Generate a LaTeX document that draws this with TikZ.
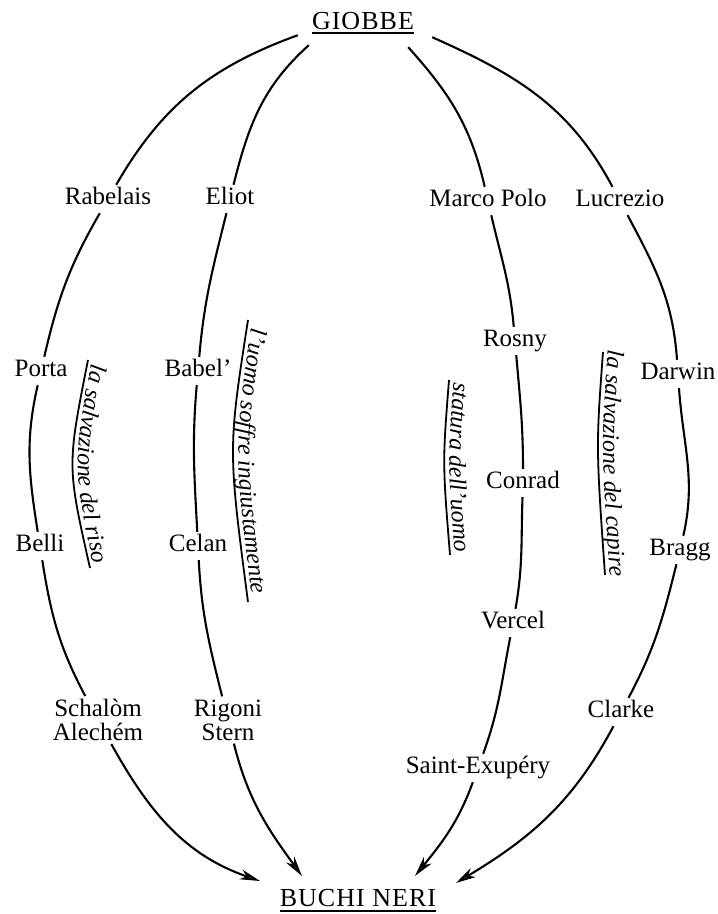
\documentclass[tikz,border=0pt]{standalone}
\usepackage{fontspec}
\setmainfont{Liberation Serif}
\usetikzlibrary{arrows.meta,decorations.text}
\begin{document}
\begin{tikzpicture}[x=1pt,y=1pt,
  person/.style={font=\fontsize{25}{24}\selectfont, inner sep=3pt, text height=17pt, text depth=5pt, anchor=base},
  pole/.style={person, font=\fontsize{26}{24}\selectfont\addfontfeature{LetterSpace=4}},
  twoline/.style={font=\fontsize{25}{24}\selectfont, inner sep=3pt, align=center},
  link/.style={line width=2.1pt},
  arr/.style={link, -{Stealth[length=20pt,width=10pt,inset=6pt,fill=black!60]}},
  bar/.style={line width=1.8pt},
  lbl/.style={decorate, decoration={text along path, text align=center, raise=5pt}}
]
\useasboundingbox[fill=white] (0,0) rectangle (718,914);

% poles
\node[pole] (giobbe) at (363,884) {GIOBBE};
\node[pole] (buchi) at (358,7) {BUCHI NERI};
\draw[bar] ([xshift=3pt,yshift=-3pt]giobbe.base west) -- ([xshift=-3pt,yshift=-3pt]giobbe.base east);
\draw[bar] ([xshift=3pt,yshift=-4pt]buchi.base west) -- ([xshift=-3pt,yshift=-4pt]buchi.base east);

% names
\node[person] (rabelais) at (108,709) {Rabelais};
\node[person] (eliot) at (230,709) {Eliot};
\node[person] (marcopolo) at (488,707) {Marco Polo};
\node[person] (lucrezio) at (620,707) {Lucrezio};
\node[person] (porta) at (41,537) {Porta};
\node[person] (babel) at (198,537) {Babel'};
\node[person] (rosny) at (515,567) {Rosny};
\node[person] (darwin) at (678,534) {Darwin};
\node[person] (conrad) at (523,425) {Conrad};
\node[person] (belli) at (40,362) {Belli};
\node[person] (celan) at (198,362) {Celan};
\node[person] (bragg) at (680,358) {Bragg};
\node[person] (vercel) at (513,285) {Vercel};
\node[twoline] (schalom) at (98,194) {Schalòm\\Alechém};
\node[twoline] (rigoni) at (228,194) {Rigoni\\Stern};
\node[person] (clarke) at (621,196) {Clarke};
\node[person] (saintex) at (478,140) {Saint-Exupéry};

% arrow ends
\coordinate (tipA) at (260,33);
\coordinate (tipB) at (302,38);
\coordinate (tipC) at (415,38);
\coordinate (tipD) at (456,31);

% meridians
\draw[arr] ([shift={(-11,3)}]giobbe.south west) to[out=200,in=60] (rabelais)
  to[out=240,in=77] (porta) to[out=257,in=99] (belli)
  to[out=279,in=118] (schalom) to[out=299,in=161] (tipA);
\draw[arr] ([shift={(0,-7)}]giobbe.south west) to[out=222,in=76] (eliot)
  to[out=256,in=85] (babel) to[out=265,in=93] (celan)
  to[out=273,in=104] (rigoni) to[out=284,in=126] (tipB);
\draw[arr] ([shift={(-9,-9)}]giobbe.south east) to[out=312,in=103] (marcopolo)
  to[out=283,in=95] (rosny) to[out=275,in=90] (conrad)
  to[out=268,in=80] (vercel) to[out=259,in=70] (saintex)
  to[out=250,in=51] (tipC);
\draw[arr] ([shift={(15,1)}]giobbe.south east) to[out=336,in=118] (lucrezio)
  to[out=298,in=94] (darwin) to[out=274,in=77] (bragg)
  to[out=256,in=62] (clarke) to[out=242,in=31] (tipD);

% curved labels
\draw[bar] (88,554) .. controls (67,448) .. (90,346);
\path[lbl, decoration={text={|\fontsize{24}{24}\selectfont\itshape|la salvazione del riso}}]
  (88.5,562) .. controls (67,448) .. (91,338);

\draw[bar] (248,594) .. controls (228,465) .. (248,312);
\path[lbl, decoration={text={|\fontsize{24}{24}\selectfont\itshape|l'uomo soffre ingiustamente}}]
  (249,606) .. controls (228,465) .. (249,300);

\draw[bar] (449,534) .. controls (442.5,451.5) .. (450,359);
\path[lbl, decoration={text={|\fontsize{24}{24}\selectfont\itshape|statura dell'uomo}}]
  (449.5,544) .. controls (442.5,451.5) .. (450.5,349);

\draw[bar] (603,562) .. controls (596,467.5) .. (605,339);
\path[lbl, decoration={text={|\fontsize{24}{24}\selectfont\itshape|la salvazione del capire}}]
  (603.5,574) .. controls (596,467.5) .. (605.5,327);
\end{tikzpicture}
\end{document}
